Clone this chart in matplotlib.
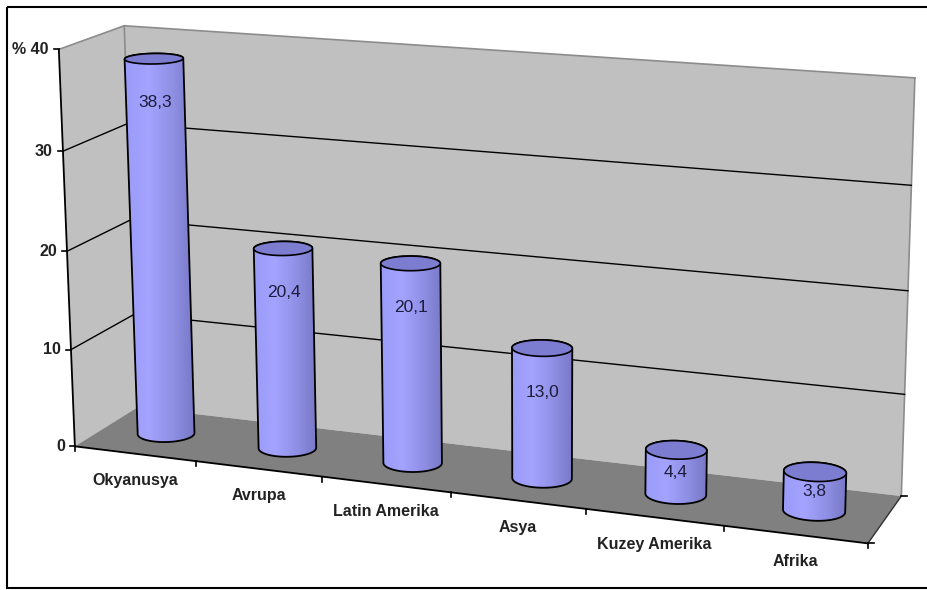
import numpy as np
import matplotlib.pyplot as plt
from matplotlib.patches import Polygon, Rectangle
from matplotlib.colors import LinearSegmentedColormap

plt.rcParams['font.family'] = ['Liberation Sans', 'DejaVu Sans']

# Data
categories = ['Okyanusya', 'Avrupa', 'Latin Amerika', 'Asya', 'Kuzey Amerika', 'Afrika']
values = [38.3, 20.4, 20.1, 13.0, 4.4, 3.8]
value_labels = ['38,3', '20,4', '20,1', '13,0', '4,4', '3,8']
y_ticks = [0, 10, 20, 30, 40]
y_tick_labels = ['0', '10', '20', '30', '% 40']

# Box of the 3-D view: (category, value, depth) -> pixel, used to fit the camera
CAL_WORLD = [(0, 0, 0), (0, 40, 0), (6, 0, 0), (0, 0, 1), (0, 40, 1), (6, 0, 1), (6, 40, 1),
             (1, 0, 0), (2, 0, 0), (3, 0, 0), (4, 0, 0), (5, 0, 0)]
CAL_PIX = [(74, 445), (60, 48), (868, 543), (138, 407), (123, 27), (902, 495), (915, 78),
           (197, 462), (322, 478), (452, 493), (585, 508), (723, 527)]

N = len(categories)
YMAX = 40
RX, RZ = 0.215, 0.2      # cylinder radius (category units, depth units)
SAVEFIG = 'out.png'


def fit_camera(world, pix):
    w = np.asarray(world, float) / [N, YMAX, 1]
    p = (np.asarray(pix, float) - [460, 300]) / 300
    rows = []
    for (X, Y, Z), (u, v) in zip(w, p):
        h = [X, Y, Z, 1.0]
        rows.append(h + [0.0] * 4 + [-u * c for c in h])
        rows.append([0.0] * 4 + h + [-v * c for c in h])
    _, _, vt = np.linalg.svd(np.array(rows))
    return vt[-1].reshape(3, 4)


P = fit_camera(CAL_WORLD, CAL_PIX)


def proj(x, y, z):
    x, y, z = np.broadcast_arrays(np.asarray(x, float), np.asarray(y, float), np.asarray(z, float))
    h = np.stack([x.ravel() / N, y.ravel() / YMAX, z.ravel(), np.ones(x.size)])
    q = P @ h
    u = q[0] / q[2] * 300 + 460
    v = q[1] / q[2] * 300 + 300
    return np.column_stack([u, v])


def hull(pts):
    pts = sorted(set(map(tuple, np.round(pts, 3))))

    def half(seq):
        out = []
        for p in seq:
            while len(out) >= 2 and ((out[-1][0] - out[-2][0]) * (p[1] - out[-2][1])
                                     - (out[-1][1] - out[-2][1]) * (p[0] - out[-2][0])) <= 0:
                out.pop()
            out.append(p)
        return out
    lo = half(pts)
    up = half(list(reversed(pts)))
    return np.array(lo[:-1] + up[:-1])


def main():
    fig = plt.figure(figsize=(9.27, 5.90), dpi=100)
    ax = fig.add_axes([0, 0, 1, 1])
    ax.set_xlim(0, 927)
    ax.set_ylim(590, 0)
    ax.axis('off')

    # Outer frame
    ax.add_patch(Rectangle((7, 7), 940, 581, fill=False, ec='black', lw=1.5))

    # Walls and floor
    wall = '#c0c0c0'
    ax.add_patch(Polygon(proj([0, 0, 0, 0], [0, YMAX, YMAX, 0], [0, 0, 1, 1]), fc=wall, ec='none'))
    ax.add_patch(Polygon(proj([0, N, N, 0], [0, 0, YMAX, YMAX], [1, 1, 1, 1]), fc=wall, ec='none'))
    ax.add_patch(Polygon(proj([0, N, N, 0], [0, 0, 0, 0], [0, 0, 1, 1]), fc='#808080', ec='none'))

    edge = '#8c8c8c'
    for xs, ys, zs in [([0, 0, N], [YMAX, YMAX, YMAX], [0, 1, 1]),
                       ([0, 0], [0, YMAX], [1, 1]),
                       ([N, N], [0, YMAX], [1, 1])]:
        pts = proj(xs, ys, zs)
        ax.plot(pts[:, 0], pts[:, 1], color=edge, lw=1.2)

    # Gridlines
    for yt in y_ticks[1:-1]:
        pts = proj([0, 0, N], [yt, yt, yt], [0, 1, 1])
        ax.plot(pts[:, 0], pts[:, 1], color='black', lw=1.0)

    # Value axis
    pts = proj([0, 0], [0, YMAX], [0, 0])
    ax.plot(pts[:, 0], pts[:, 1], color='black', lw=1.3)
    for yt, lab in zip(y_ticks, y_tick_labels):
        u, v = proj(0, yt, 0)[0]
        ax.plot([u - 5, u], [v, v], color='black', lw=1.2)
        ax.text(u - 10, v, lab, ha='right', va='center', fontsize=11.5,
                fontweight='bold', color='#222222')

    # Category axis
    pts = proj([0, N], [0, 0], [0, 0])
    ax.plot(pts[:, 0], pts[:, 1], color='black', lw=1.3)
    for i in range(N + 1):
        u, v = proj(i, 0, 0)[0]
        ax.plot([u, u], [v, v + 5], color='black', lw=1.2)
    pts = proj([N, N], [0, 0], [0, 1])
    ax.plot(pts[:, 0], pts[:, 1], color='#303030', lw=1.0)
    for zz in [0, 1]:
        u, v = proj(N, 0, zz)[0]
        ax.plot([u, u + 6], [v, v], color='black', lw=1.2)
    for i, name in enumerate(categories):
        ax.annotate(name, xy=proj(i + 0.5, 0, 0)[0], xytext=(0, -27), textcoords='offset pixels',
                    ha='center', va='center', fontsize=11.5, fontweight='bold', color='#222222')

    # Cylinders
    cmap = LinearSegmentedColormap.from_list('cyl', ['#9a9af8', '#a4a4ff', '#9090e6', '#7878c6'])
    grad = np.linspace(0, 1, 256).reshape(1, -1)
    t = np.linspace(0, 2 * np.pi, 120)
    for i, (val, lab) in enumerate(zip(values, value_labels)):
        cx, cz = i + 0.5, 0.5
        xs = cx + RX * np.cos(t)
        zs = cz + RZ * np.sin(t)
        top = proj(xs, val, zs)
        bot = proj(xs, 0, zs)
        body = hull(np.vstack([top, bot]))
        patch = Polygon(body, fc='none', ec='black', lw=1.3, zorder=3)
        ax.add_patch(patch)
        im = ax.imshow(grad, cmap=cmap, aspect='auto', zorder=2,
                       extent=(body[:, 0].min(), body[:, 0].max(), body[:, 1].max(), body[:, 1].min()))
        im.set_clip_path(Polygon(body, transform=ax.transData))
        ax.add_patch(Polygon(top, fc='#7c7cd0', ec='black', lw=1.2, zorder=4))
        ly = max(val - 4.4, val / 2)
        u, v = proj(cx, ly, cz)[0]
        ax.text(u, v, lab, ha='center', va='center', fontsize=12.5, color='#1c1c3c', zorder=5)

    ax.set_xlim(0, 927)
    ax.set_ylim(590, 0)
    plt.savefig(SAVEFIG, dpi=100)
    plt.close()


if __name__ == '__main__':
    main()
